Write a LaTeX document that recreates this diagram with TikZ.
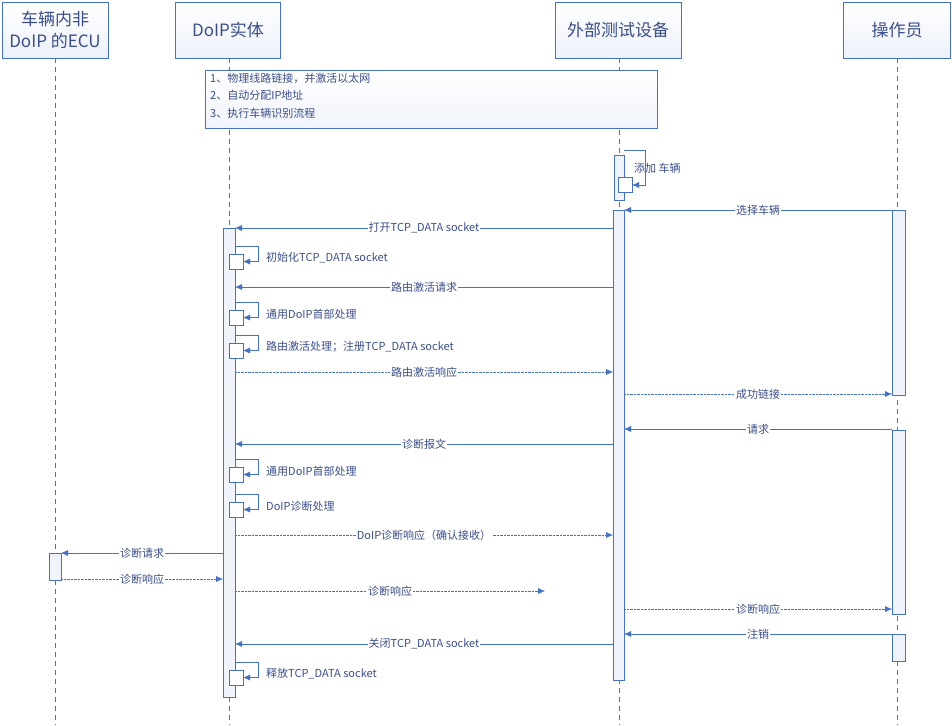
\documentclass[tikz,border=0pt]{standalone}
\usepackage{fontspec}
\setmainfont{Noto Sans CJK SC}
\usetikzlibrary{arrows.meta}
\definecolor{ln}{HTML}{4472C4}
\definecolor{tx}{HTML}{3A4E8C}
\tikzset{
 x=1pt,y=-1pt,
 head/.style={draw=ln,top color=white,bottom color=ln!10,text=tx,font=\fontsize{17}{22}\selectfont,align=center,inner sep=0pt},
 life/.style={draw=ln,dashed,dash pattern=on 5pt off 4pt},
 act/.style={draw=ln,fill=ln!8},
 sbox/.style={draw=ln,fill=white},
 msg/.style={draw=ln,-{Latex[length=7pt,width=6pt]}},
 rmsg/.style={msg,densely dotted},
 lbl/.style={fill=white,text=tx,font=\fontsize{11}{13}\selectfont,inner sep=1pt},
 slbl/.style={text=tx,font=\fontsize{11}{13}\selectfont,inner sep=1pt,anchor=west},
}
\begin{document}
\begin{tikzpicture}
\useasboundingbox (0,0) rectangle (952,725);
% lifelines
\draw[life] (55,58) -- (55,725);
\draw[life] (229,58) -- (229,725);
\draw[life] (619,58) -- (619,725);
\draw[life] (897,58) -- (897,725);
% headers
\node[head,minimum width=106pt,minimum height=56pt] (h1) at (55,30) {车辆内非\\DoIP 的ECU};
\node[head,minimum width=105pt,minimum height=56pt] (h2) at (228,30) {DoIP实体};
\node[head,minimum width=126pt,minimum height=56pt] (h3) at (618,30) {外部测试设备};
\node[head,minimum width=107pt,minimum height=56pt] (h4) at (897,30) {操作员};
% note
\node[draw=ln,top color=white,bottom color=ln!8,minimum width=452pt,minimum height=58pt,anchor=north west,inner sep=0pt] (note) at (205,70) {};
\node[text=tx,font=\fontsize{11}{17.5}\selectfont,align=left,anchor=north west,inner sep=0pt] (nt) at (210,73) {1、物理线路链接，并激活以太网\\2、自动分配IP地址\\3、执行车辆识别流程};
% activations
\draw[act] (614,155) rectangle (624,200);
\draw[act] (613,210) rectangle (624,680);
\draw[act] (223,228) rectangle (235,697);
\draw[act] (892,210) rectangle (905,395);
\draw[act] (892,430) rectangle (905,614);
\draw[act] (892,634) rectangle (905,661);
\draw[act] (49,553) rectangle (61,580);
% tester self
\draw[sbox] (618,177) rectangle (632,192);
\coordinate (t1) at (624,150);
\coordinate (t2) at (645,150);
\coordinate (t3) at (645,185);
\coordinate (t4) at (632,185);
\draw[msg] (t1) -- (t2) -- (t3) -- (t4);
\node[slbl] at (633,168) {添加 车辆};
% DoIP self calls
\foreach \y/\t in {254/初始化TCP\_DATA socket,310/通用DoIP首部处理,343/路由激活处理；注册TCP\_DATA socket,467/通用DoIP首部处理,502/DoIP诊断处理,670/释放TCP\_DATA socket}{
  \draw[sbox] (229,\y) rectangle (243,\y+15);
  \draw[msg] (235,\y-8) -- (258,\y-8) -- (258,\y+7.5) -- (243,\y+7.5);
  \node[slbl] at (265,\y+4) {\t};
}
% messages
\coordinate (a1) at (613,228); \coordinate (b1) at (235,228);
\draw[msg] (a1) -- node[lbl]{打开TCP\_DATA socket} (b1);
\coordinate (a2) at (613,287); \coordinate (b2) at (235,287);
\draw[msg] (a2) -- node[lbl]{路由激活请求} (b2);
\coordinate (a3) at (235,372); \coordinate (b3) at (613,372);
\draw[rmsg] (a3) -- node[lbl]{路由激活响应} (b3);
\coordinate (a4) at (892,210); \coordinate (b4) at (624,210);
\draw[msg] (a4) -- node[lbl]{选择车辆} (b4);
\coordinate (a5) at (624,394); \coordinate (b5) at (892,394);
\draw[rmsg] (a5) -- node[lbl]{成功链接} (b5);
\coordinate (a6) at (892,429); \coordinate (b6) at (624,429);
\draw[msg] (a6) -- node[lbl]{请求} (b6);
\coordinate (a7) at (613,444); \coordinate (b7) at (235,444);
\draw[msg] (a7) -- node[lbl]{诊断报文} (b7);
\coordinate (a8) at (235,535); \coordinate (b8) at (613,535);
\draw[rmsg] (a8) -- node[lbl]{DoIP诊断响应（确认接收）} (b8);
\coordinate (a9) at (223,553); \coordinate (b9) at (61,553);
\draw[msg] (a9) -- node[lbl]{诊断请求} (b9);
\coordinate (a10) at (61,579); \coordinate (b10) at (223,579);
\draw[rmsg] (a10) -- node[lbl]{诊断响应} (b10);
\coordinate (a11) at (235,591); \coordinate (b11) at (545,591);
\draw[rmsg] (a11) -- node[lbl]{诊断响应} (b11);
\coordinate (a12) at (624,609); \coordinate (b12) at (892,609);
\draw[rmsg] (a12) -- node[lbl]{诊断响应} (b12);
\coordinate (a13) at (892,634); \coordinate (b13) at (624,634);
\draw[msg] (a13) -- node[lbl]{注销} (b13);
\coordinate (a14) at (613,644); \coordinate (b14) at (235,644);
\draw[msg] (a14) -- node[lbl]{关闭TCP\_DATA socket} (b14);
\end{tikzpicture}
\end{document}
